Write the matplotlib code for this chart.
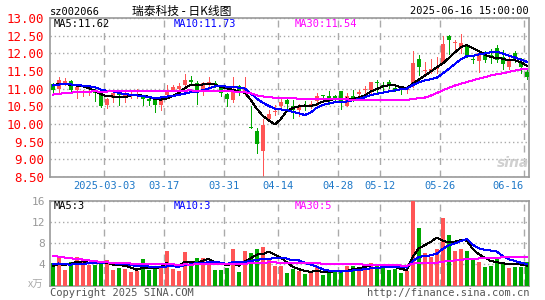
import matplotlib
matplotlib.use('Agg')
import matplotlib.pyplot as plt
import numpy as np
import pandas as pd

# Daily K data for sz002066, 2025-02-18 .. 2025-06-16 (80 trading days)
opens = [11.13, 10.99, 11.15, 11.22, 10.95, 10.88, 10.89, 10.97, 10.87, 10.55,
         10.73, 10.87, 10.78, 10.78, 10.80, 10.78, 10.71, 10.67, 10.55, 10.83,
         10.96, 10.98, 11.10, 11.25, 11.17, 10.92, 11.11, 11.15, 11.04, 10.84,
         10.68, 11.08, 10.87, 9.89, 9.80, 9.25, 10.14, 10.33, 10.51, 10.68,
         10.52, 10.39, 10.52, 10.52, 10.64, 10.83, 10.80, 10.78, 10.92, 10.52,
         10.80, 10.85, 10.95, 10.97, 11.20, 11.11, 11.20, 11.03, 10.97, 10.95,
         11.11, 11.84, 11.50, 11.51, 11.57, 11.73, 12.48, 12.30, 12.14, 12.23,
         11.83, 11.79, 12.00, 11.95, 12.14, 11.90, 11.62, 12.01, 11.76, 11.48]
highs = [11.17, 11.34, 11.29, 11.25, 11.11, 10.97, 11.01, 10.99, 10.92, 10.73,
         10.92, 10.92, 10.92, 10.92, 10.99, 10.83, 10.73, 10.69, 10.78, 11.11,
         11.10, 11.15, 11.42, 11.36, 11.23, 11.20, 11.34, 11.23, 11.08, 10.89,
         11.34, 11.10, 11.34, 10.51, 9.90, 10.13, 10.40, 10.54, 10.73, 10.73,
         10.69, 10.57, 10.64, 10.64, 10.87, 10.83, 10.92, 10.83, 10.92, 10.89,
         10.97, 10.95, 11.08, 11.20, 11.25, 11.20, 11.25, 11.11, 11.06, 11.08,
         12.07, 11.95, 11.76, 11.83, 11.90, 12.48, 12.51, 12.39, 12.54, 12.26,
         11.90, 12.04, 12.07, 12.11, 12.23, 12.09, 11.90, 12.07, 11.86, 11.55]
lows = [10.89, 10.87, 11.11, 10.94, 10.73, 10.80, 10.83, 10.64, 10.47, 10.45,
        10.61, 10.55, 10.61, 10.73, 10.73, 10.55, 10.55, 10.33, 10.41, 10.78,
        10.92, 10.92, 11.04, 11.15, 10.58, 10.82, 11.06, 11.04, 10.80, 10.51,
        10.63, 10.82, 10.82, 9.88, 9.19, 8.49, 10.11, 10.26, 10.42, 10.42,
        10.17, 10.24, 10.39, 10.45, 10.52, 10.70, 10.57, 10.61, 10.42, 10.50,
        10.64, 10.78, 10.85, 10.89, 10.89, 10.97, 11.01, 10.92, 10.85, 10.89,
        11.06, 11.39, 11.39, 11.43, 11.43, 11.72, 11.99, 12.07, 12.01, 11.90,
        11.72, 11.48, 11.76, 11.73, 11.76, 11.55, 11.57, 11.76, 11.43, 11.27]
closes = [10.97, 11.25, 11.22, 10.97, 11.04, 10.90, 10.92, 10.87, 10.52, 10.71,
          10.87, 10.81, 10.85, 10.81, 10.82, 10.71, 10.66, 10.55, 10.71, 10.97,
          11.05, 11.08, 11.25, 11.20, 10.92, 11.15, 11.19, 11.13, 10.87, 10.70,
          10.96, 10.92, 10.98, 9.88, 9.43, 9.97, 10.28, 10.37, 10.63, 10.56,
          10.41, 10.52, 10.50, 10.57, 10.78, 10.80, 10.69, 10.71, 10.61, 10.80,
          10.73, 10.90, 10.97, 11.20, 11.15, 11.08, 11.08, 10.97, 10.95, 10.99,
          11.73, 11.62, 11.53, 11.55, 11.60, 12.26, 12.39, 12.32, 12.28, 11.92,
          11.81, 12.00, 11.81, 11.92, 11.81, 11.70, 11.78, 11.83, 11.62, 11.34]
# volume, unit 10k lots
volumes = [4.3, 5.2, 3.0, 4.4, 5.4, 4.8, 3.9, 3.8, 4.3, 4.8,
           3.0, 3.4, 3.2, 2.6, 2.7, 5.1, 3.0, 3.2, 3.4, 6.5,
           3.2, 2.7, 6.3, 3.9, 5.2, 5.2, 4.6, 2.9, 3.0, 3.4,
           6.9, 2.6, 6.6, 6.2, 7.0, 7.3, 4.9, 3.7, 3.7, 2.3,
           3.1, 2.7, 2.1, 2.7, 3.5, 1.9, 2.6, 2.9, 2.6, 3.7,
           3.7, 3.4, 4.1, 4.2, 4.0, 3.5, 2.9, 3.1, 2.3, 2.8,
           16.0, 10.9, 6.2, 5.4, 7.0, 12.8, 9.5, 6.6, 7.0, 6.6,
           5.0, 4.4, 3.5, 3.7, 5.4, 4.2, 3.3, 3.5, 3.5, 4.4]

# the 29 sessions before the window (only used to warm up the moving averages)
prev_close = [10.55, 10.60, 10.62, 10.58, 10.65, 10.70, 10.68, 10.72, 10.66, 10.60,
              10.63, 10.70, 10.75, 10.78, 10.80, 10.74, 10.72, 10.78, 10.85, 10.90,
              11.00, 11.05, 11.10, 11.15, 11.12, 11.08, 11.15, 11.18, 11.10]
prev_volume = [9.0, 8.5, 8.8, 9.2, 8.0, 8.4, 8.6, 7.8, 8.2, 4.8,
               4.5, 4.2, 5.0, 4.6, 4.4, 4.7, 4.3, 4.5, 4.6, 4.9,
               4.5, 4.8, 4.6, 4.4, 4.2, 3.4, 3.8, 3.3, 3.7]

tick_idx = [9, 19, 29, 38, 48, 55, 65, 79]
tick_labels = ['2025-03-03', '03-17', '03-31', '04-14', '04-28', '05-12', '05-26', '06-16']

ma_periods = [5, 10, 30]
ma_colors = ['black', 'blue', '#ff00ff']
price_ma_last = [11.62, 11.73, 11.54]
vol_ma_last = [3, 3, 5]

RED = '#ff5555'
GREEN = '#00a800'
GRID = '#aaaaaa'
PX = 0.72  # one pixel line at 100 dpi

plt.rcParams['font.family'] = ['DejaVu Sans Mono', 'Noto Sans CJK SC']

o = np.array(opens)
h = np.array(highs)
l = np.array(lows)
c = np.array(closes)
v = np.array(volumes)
x = np.arange(len(c))
colors = np.where(c >= o, RED, GREEN)

W, H = 545, 300
def box(left, top, right, bottom):
    return [left / W, 1 - bottom / H, (right - left) / W, (bottom - top) / H]

fig = plt.figure(figsize=(W / 100, H / 100), dpi=100)
ax = fig.add_axes(box(50, 18, 529, 177))
axv = fig.add_axes(box(50, 201, 529, 285.5))

# candles
ax.vlines(x, l, h, colors=colors, lw=PX, zorder=2, antialiased=False)
body = np.maximum(np.abs(c - o), 0.03)
ax.bar(x, body, bottom=np.minimum(o, c), width=0.7, color=colors, lw=0, zorder=3,
       antialiased=False)

# moving averages (price and volume)
all_close = pd.Series(prev_close + closes)
all_vol = pd.Series(prev_volume + volumes)
n0 = len(prev_close)
for p, col in zip(ma_periods, ma_colors):
    ax.plot(x, all_close.rolling(p).mean().values[n0:], color=col, lw=PX, zorder=4,
            antialiased=False)
    axv.plot(x, all_vol.rolling(p).mean().values[n0:], color=col, lw=PX, zorder=4,
             antialiased=False)

axv.bar(x, v, width=0.7, color=colors, lw=0, zorder=3, antialiased=False)

grid_x = np.array(tick_idx) - 0.45
for a in (ax, axv):
    a.set_xlim(-0.45, 79.38)
    a.set_xticks(grid_x)
    a.xaxis.grid(True, ls=(0, (5, 4)), color=GRID, lw=1)
    a.yaxis.grid(True, ls=(0, (1, 2)), color=GRID, lw=1)
    a.set_axisbelow(True)
    a.tick_params(length=0)
    for s in a.spines.values():
        s.set_color('#999999')
        s.set_linewidth(1.2)

ax.set_ylim(8.5, 13.0)
yt = np.arange(8.5, 13.01, 0.5)
ax.set_yticks(yt)
ax.set_yticklabels(['%.2f' % t for t in yt], color='red', fontsize=9)
ax.set_xticklabels(tick_labels, color='#1e78c8', fontsize=7.5)
ax.tick_params(axis='x', pad=3)
ax.get_xticklabels()[-1].set_ha('right')
ax.tick_params(axis='y', pad=4)

axv.set_ylim(0, 16)
axv.set_yticks([0, 4, 8, 12, 16])
axv.set_yticklabels(['', '4', '8', '12', '16'], color='#999999', fontsize=8)
axv.set_xticklabels([])

# legends in the panels
for i, (p, col) in enumerate(zip(ma_periods, ma_colors)):
    fx = [54, 174, 295][i]
    fig.text(fx / W, 1 - 24 / H, 'MA%d:%.2f' % (p, price_ma_last[i]), color=col,
             fontsize=7.5, va='center')
    fig.text(fx / W, 1 - 206 / H, 'MA%d:%d' % (p, vol_ma_last[i]), color=col,
             fontsize=7.5, va='center')

# header
fig.text(50 / W, 1 - 12 / H, 'sz002066', fontsize=7.5, va='center')
fig.text(182 / W, 1 - 11 / H, '瑞泰科技 - 日K线图', family=['Noto Sans CJK SC'],
         fontsize=8.5, ha='center', va='center')
fig.text(529 / W, 1 - 11 / H, '2025-06-16 15:00:00', fontsize=7.5, ha='right', va='center')

# footer
fig.text(28 / W, 1 - 285 / H, 'x万', family=['Noto Sans CJK SC'], color='#aaaaaa',
         fontsize=7.5, va='center')
fig.text(50 / W, 1 - 293 / H, 'Copyright 2025 SINA.COM', color='#555555', fontsize=7.5, va='center')
fig.text(529 / W, 1 - 293 / H, 'http://finance.sina.com.cn', color='#555555', fontsize=7.5,
         ha='right', va='center')

# watermark
fig.text(513 / W, 1 - 163 / H, 'sina', color='#d0d0d0', fontsize=10, style='italic',
         weight='bold', family='DejaVu Sans', ha='center', va='center')

fig.savefig('out.png', dpi=100)
